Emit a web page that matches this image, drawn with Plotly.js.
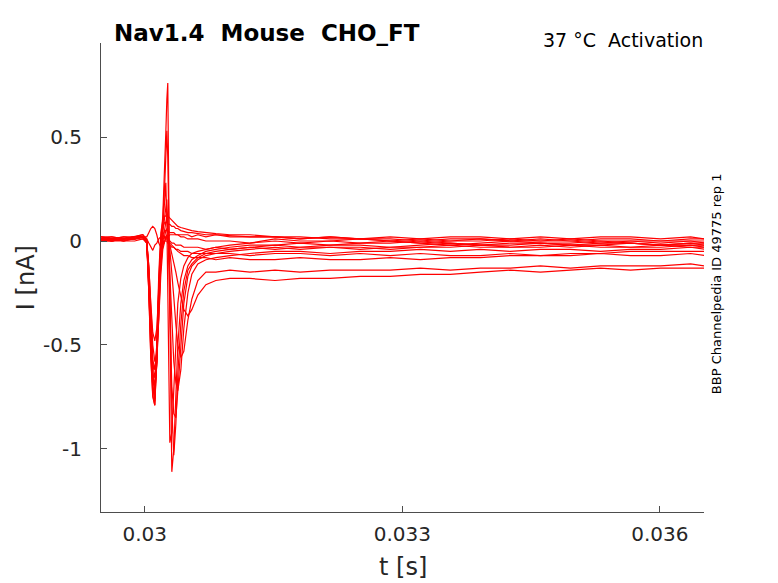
<!DOCTYPE html>
<html>
<head>
<meta charset="utf-8">
<script src="https://cdn.plot.ly/plotly-3.0.1.min.js"></script>
<style>
  html, body { margin: 0; padding: 0; background: #fff; }
  #chart { width: 778px; height: 583px; }
</style>
</head>
<body>
<div id="chart"></div>
<script>
// ─── Data (time in s, current in nA) ──────────────────────────────────────────

const tSec = [
  0.029487, 0.029615, 0.029755, 0.029883, 0.029977, 0.030023, 0.030047, 0.030070,
  0.030093, 0.030117, 0.030140, 0.030163, 0.030187, 0.030210, 0.030233, 0.030245,
  0.030257, 0.030268, 0.030292, 0.030315, 0.030338, 0.030362, 0.030385, 0.030420,
  0.030455, 0.030502, 0.030548, 0.030618, 0.030712, 0.030828, 0.030992, 0.031225,
  0.031517, 0.031809, 0.032159, 0.032509, 0.032859, 0.033209, 0.033559, 0.033909,
  0.034259, 0.034609, 0.034959, 0.035309, 0.035659, 0.036009, 0.036359, 0.036523
];

const sweep01 = [0.01, 0.00, 0.01, 0.02, 0.03, 0.00, -0.22, -0.52, -0.70, -0.76, -0.52, -0.20, 0.00, 0.12, 0.35, 0.52,
  0.68, 0.76, -0.35, -1.11, -1.00, -0.74, -0.50, -0.30, -0.19, -0.12, -0.09, -0.07, -0.05, -0.04, -0.03, -0.02,
  -0.02, -0.01, -0.02, -0.01, 0.00, -0.01, -0.02, -0.01, 0.00, -0.01, -0.01, 0.00, -0.01, -0.02, -0.01, -0.01];
const sweep02 = [0.00, 0.01, 0.00, 0.01, 0.02, -0.01, -0.24, -0.55, -0.74, -0.79, -0.56, -0.22, -0.02, 0.10, 0.28, 0.42,
  0.53, 0.40, -0.25, -0.80, -1.03, -0.88, -0.64, -0.40, -0.24, -0.14, -0.11, -0.08, -0.06, -0.05, -0.04, -0.03,
  -0.02, -0.03, -0.02, -0.02, -0.03, -0.02, -0.01, -0.02, -0.02, -0.01, -0.02, -0.02, -0.01, -0.02, -0.02, -0.02];
const sweep03 = [0.02, 0.01, 0.02, 0.01, 0.02, 0.00, -0.20, -0.50, -0.70, -0.77, -0.58, -0.26, -0.04, 0.06, 0.18, 0.28,
  0.10, -0.30, -0.97, -0.92, -0.70, -0.46, -0.30, -0.18, -0.12, -0.08, -0.06, -0.05, -0.04, -0.03, -0.02, -0.01,
  0.01, 0.00, 0.00, 0.01, 0.00, -0.01, 0.00, 0.01, 0.00, 0.00, 0.01, 0.00, 0.00, -0.01, 0.00, 0.00];
const sweep04 = [0.01, 0.01, 0.00, 0.02, 0.02, 0.00, -0.18, -0.46, -0.66, -0.73, -0.58, -0.28, -0.06, 0.04, 0.12, 0.17,
  0.20, 0.08, -0.38, -0.70, -0.83, -0.85, -0.72, -0.50, -0.30, -0.17, -0.12, -0.09, -0.07, -0.06, -0.05, -0.04,
  -0.03, -0.04, -0.03, -0.03, -0.04, -0.03, -0.03, -0.02, -0.03, -0.03, -0.02, -0.03, -0.03, -0.02, -0.03, -0.03];
const sweep05 = [0.00, 0.00, 0.01, 0.01, 0.02, -0.01, -0.16, -0.42, -0.62, -0.70, -0.60, -0.34, -0.10, 0.00, 0.07, 0.10,
  0.12, 0.06, -0.18, -0.40, -0.58, -0.68, -0.72, -0.62, -0.42, -0.25, -0.16, -0.11, -0.09, -0.08, -0.07, -0.06,
  -0.05, -0.05, -0.06, -0.05, -0.05, -0.04, -0.05, -0.04, -0.05, -0.04, -0.04, -0.05, -0.04, -0.04, -0.03, -0.04];
const sweep06 = [0.01, 0.00, 0.00, 0.01, 0.02, 0.00, -0.14, -0.38, -0.58, -0.66, -0.58, -0.36, -0.12, -0.02, 0.03, 0.05,
  0.06, 0.04, -0.04, -0.14, -0.27, -0.40, -0.50, -0.56, -0.53, -0.38, -0.28, -0.19, -0.15, -0.15, -0.14, -0.15,
  -0.14, -0.15, -0.14, -0.14, -0.14, -0.13, -0.14, -0.13, -0.13, -0.12, -0.13, -0.12, -0.12, -0.12, -0.11, -0.12];
const sweep07 = [0.00, 0.01, 0.00, 0.00, 0.01, 0.00, -0.12, -0.32, -0.50, -0.58, -0.54, -0.38, -0.16, -0.04, 0.01, 0.02,
  0.03, 0.02, -0.02, -0.06, -0.10, -0.15, -0.20, -0.27, -0.33, -0.36, -0.33, -0.26, -0.21, -0.19, -0.18, -0.18,
  -0.19, -0.18, -0.18, -0.17, -0.17, -0.16, -0.16, -0.15, -0.14, -0.15, -0.14, -0.13, -0.14, -0.13, -0.13, -0.13];
const sweep08 = [0.02, 0.01, 0.02, 0.02, 0.03, 0.01, -0.25, -0.56, -0.75, -0.79, -0.50, -0.16, 0.04, 0.10, 0.12, 0.12,
  0.13, 0.12, 0.11, 0.10, 0.09, 0.08, 0.07, 0.065, 0.06, 0.055, 0.05, 0.045, 0.04, 0.035, 0.03, 0.03,
  0.02, 0.02, 0.01, 0.01, 0.01, 0.00, 0.01, 0.01, 0.00, 0.01, 0.00, 0.01, 0.01, 0.00, 0.01, 0.01];
const sweep09 = [0.01, 0.01, 0.01, 0.02, 0.02, 0.00, -0.22, -0.50, -0.70, -0.74, -0.52, -0.20, 0.01, 0.07, 0.09, 0.09,
  0.09, 0.08, 0.08, 0.07, 0.07, 0.06, 0.06, 0.05, 0.045, 0.04, 0.04, 0.035, 0.03, 0.03, 0.025, 0.02,
  0.02, 0.01, 0.02, 0.01, 0.00, 0.01, 0.00, 0.00, 0.01, 0.00, 0.00, -0.01, 0.00, 0.00, 0.00, -0.01];
const sweep10 = [0.01, 0.00, 0.01, 0.02, 0.02, 0.00, -0.20, -0.47, -0.65, -0.70, -0.56, -0.26, -0.04, 0.03, 0.05, 0.05,
  0.05, 0.05, 0.04, 0.04, 0.04, 0.03, 0.03, 0.02, 0.02, 0.01, 0.01, 0.01, 0.00, 0.00, 0.00, -0.01,
  0.00, -0.01, 0.00, -0.01, -0.01, 0.00, -0.01, -0.02, -0.01, -0.01, -0.02, -0.01, -0.01, -0.02, -0.01, -0.02];
const sweep11 = [0.01, 0.00, 0.01, 0.01, 0.02, 0.00, -0.15, -0.40, -0.57, -0.62, -0.50, -0.26, -0.06, 0.01, 0.02, 0.02,
  0.02, 0.01, 0.00, -0.01, -0.01, -0.02, -0.02, -0.02, -0.03, -0.03, -0.03, -0.03, -0.04, -0.03, -0.04, -0.03,
  -0.04, -0.03, -0.03, -0.04, -0.03, -0.03, -0.02, -0.03, -0.03, -0.02, -0.03, -0.02, -0.03, -0.03, -0.02, -0.03];
const sweep12 = [0.00, 0.00, 0.01, 0.01, 0.01, -0.01, -0.12, -0.30, -0.44, -0.48, -0.42, -0.24, -0.08, -0.02, 0.00, 0.00,
  0.00, -0.01, -0.02, -0.03, -0.03, -0.04, -0.04, -0.05, -0.05, -0.05, -0.06, -0.06, -0.06, -0.06, -0.06, -0.07,
  -0.06, -0.06, -0.07, -0.06, -0.07, -0.06, -0.07, -0.07, -0.06, -0.07, -0.07, -0.06, -0.07, -0.07, -0.06, -0.07];
const sweep13 = [0.02, 0.02, 0.01, 0.02, 0.02, 0.02, 0.04, 0.06, 0.07, 0.06, 0.03, -0.01, -0.03, -0.02, 0.00, 0.01,
  0.02, 0.02, 0.03, 0.03, 0.03, 0.03, 0.03, 0.03, 0.03, 0.03, 0.02, 0.03, 0.02, 0.03, 0.02, 0.02,
  0.02, 0.01, 0.02, 0.01, 0.02, 0.01, 0.02, 0.02, 0.01, 0.02, 0.01, 0.02, 0.02, 0.01, 0.02, 0.01];
const sweep14 = [0.01, 0.02, 0.01, 0.01, 0.02, 0.01, -0.01, -0.03, -0.045, -0.02, -0.01, 0.01, 0.02, 0.03, 0.02, 0.01,
  0.01, 0.00, -0.01, -0.02, -0.03, -0.04, -0.05, -0.06, -0.07, -0.07, -0.08, -0.08, -0.08, -0.09, -0.08, -0.09,
  -0.09, -0.08, -0.09, -0.09, -0.08, -0.09, -0.08, -0.08, -0.07, -0.07, -0.06, -0.06, -0.05, -0.05, -0.05, -0.05];

const sweeps = [sweep01, sweep02, sweep03, sweep04, sweep05, sweep06, sweep07,
                sweep08, sweep09, sweep10, sweep11, sweep12, sweep13, sweep14];

const xTickVals = [0.03, 0.033, 0.036];
const xTickText = ['0.03', '0.033', '0.036'];
const yTickVals = [-1, -0.5, 0, 0.5];
const yTickText = ['-1', '-0.5', '0', '0.5'];

// ─── Traces ───────────────────────────────────────────────────────────────────

const traces = sweeps.map((vals, i) => ({
  x: tSec,
  y: vals,
  type: 'scatter',
  mode: 'lines',
  name: 'sweep ' + (i + 1),
  line: { color: '#ff0000', width: 1.2 },
  hoverinfo: 'skip',
}));

const FONT = 'DejaVu Sans, sans-serif';
const axisCol = '#4d4d4d';

const layout = {
  width: 778,
  height: 583,
  paper_bgcolor: '#ffffff',
  plot_bgcolor: '#ffffff',
  margin: { l: 101, r: 74, t: 43, b: 71 },
  showlegend: false,
  font: { family: FONT, color: '#262626', size: 20 },
  xaxis: {
    range: [0.02949, 0.036515],
    tickvals: xTickVals,
    ticktext: xTickText,
    ticks: 'inside',
    ticklen: 6,
    tickcolor: axisCol,
    showline: true,
    linecolor: axisCol,
    linewidth: 1,
    showgrid: false,
    zeroline: false,
    ticklabelstandoff: 4,
    tickfont: { size: 20, family: FONT, color: '#262626' },
  },
  yaxis: {
    range: [-1.303, 0.952],
    tickvals: yTickVals,
    ticktext: yTickText,
    ticks: 'inside',
    ticklen: 6,
    tickcolor: axisCol,
    showline: true,
    linecolor: axisCol,
    linewidth: 1,
    showgrid: false,
    zeroline: false,
    ticklabelstandoff: 14,
    tickfont: { size: 20, family: FONT, color: '#262626' },
  },
  annotations: [
    {
      text: '<b>Nav1.4\u00a0 Mouse\u00a0 CHO_FT</b>',
      xref: 'paper', yref: 'paper', x: 0.018, y: 1.0213,
      xanchor: 'left', yanchor: 'middle', showarrow: false,
      font: { family: FONT, size: 23, color: '#000000' },
    },
    {
      text: '37 °C\u00a0 Activation',
      xref: 'paper', yref: 'paper', x: 1.002, y: 1.0064,
      xanchor: 'right', yanchor: 'middle', showarrow: false,
      font: { family: FONT, size: 19, color: '#000000' },
    },
    {
      text: 'BBP Channelpedia ID 49775 rep 1',
      xref: 'paper', yref: 'paper', x: 1.0199, y: 0.488,
      xanchor: 'center', yanchor: 'middle', textangle: -90, showarrow: false,
      font: { family: FONT, size: 13, color: '#000000' },
    },
    {
      text: 't [s]',
      xref: 'paper', yref: 'paper', x: 0.5, y: -0.117,
      xanchor: 'center', yanchor: 'middle', showarrow: false,
      font: { family: FONT, size: 24, color: '#262626' },
    },
    {
      text: 'I [nA]',
      xref: 'paper', yref: 'paper', x: -0.125, y: 0.5,
      xanchor: 'center', yanchor: 'middle', textangle: -90, showarrow: false,
      font: { family: FONT, size: 24, color: '#262626' },
    },
  ],
};

const config = { displayModeBar: false, staticPlot: true, responsive: false };

try {
  Plotly.newPlot('chart', traces, layout, config);
} catch (err) {
  console.error('[chart] Plotly.newPlot failed:', err);
}
</script>
</body>
</html>
